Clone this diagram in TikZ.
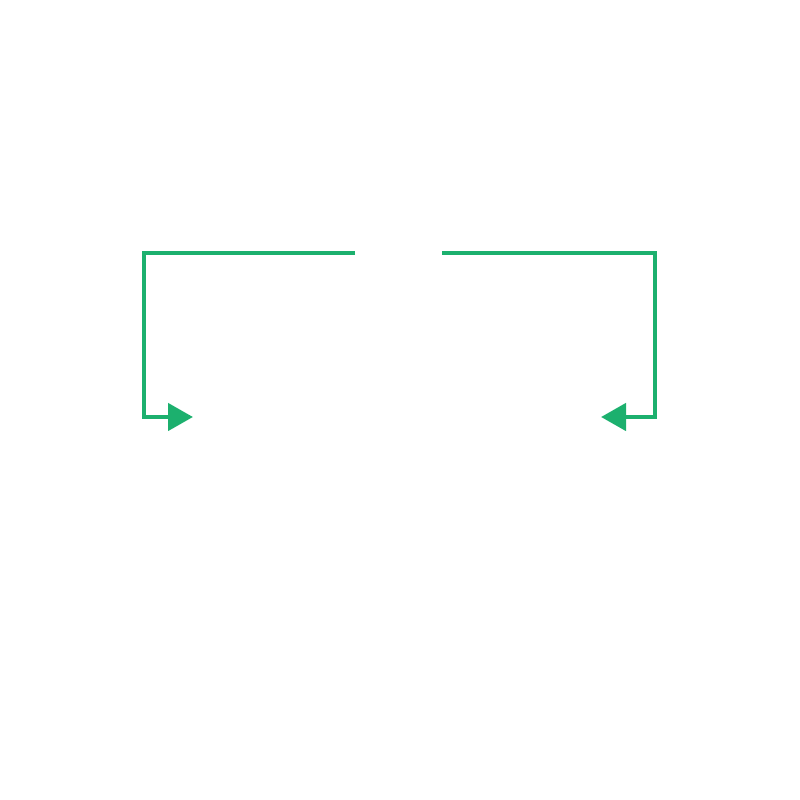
\documentclass[tikz,border=0pt]{standalone}
\usetikzlibrary{arrows.meta}
\definecolor{swapgreen}{RGB}{28,176,110}
\begin{document}
\begin{tikzpicture}
\useasboundingbox (0 cm,0 cm) rectangle (8 cm,8 cm);
\tikzset{swap/.style={draw=swapgreen, line width=1.3pt, -{Triangle[length=0.25cm,width=0.27cm]}}}
\coordinate (l1) at (3.55 cm, 5.47 cm);
\coordinate (l2) at (1.44 cm, 3.83 cm);
\coordinate (l3) at (1.93 cm, 3.83 cm);
\coordinate (r1) at (4.42 cm, 5.47 cm);
\coordinate (r2) at (6.55 cm, 3.83 cm);
\coordinate (r3) at (6.01 cm, 3.83 cm);
\draw[swap] (l1) -| (l2) -- (l3);
\draw[swap] (r1) -| (r2) -- (r3);
\end{tikzpicture}
\end{document}
